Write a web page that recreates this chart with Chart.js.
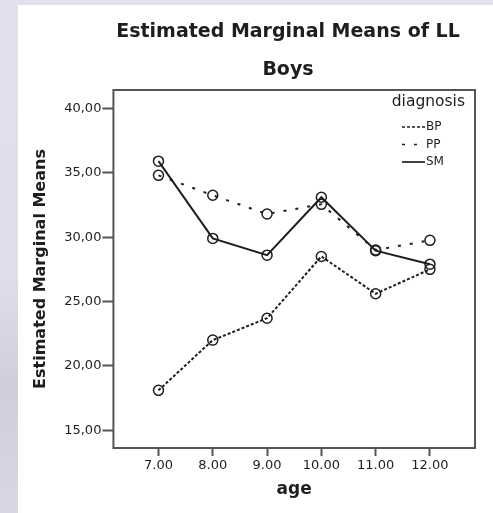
<!DOCTYPE html>
<html>
<head>
<meta charset="utf-8">
<script src="https://cdn.jsdelivr.net/npm/chart.js@4"></script>
<style>
  html, body { margin: 0; padding: 0; }
  body {
    width: 493px; height: 513px; overflow: hidden;
    background: linear-gradient(to bottom, #e2e2ee 0%, #dedeea 55%, #cfcfdc 75%, #d8d8e4 100%);
  }
  #panel {
    position: absolute; left: 18px; top: 5px;
    width: 475px; height: 508px; background: #fff;
  }
</style>
</head>
<body>
<div id="panel"><canvas id="myChart" width="475" height="508"></canvas></div>
<script>
// data
const ages = [7, 8, 9, 10, 11, 12];
const bpValues = [18.1, 22.0, 23.7, 28.5, 25.6, 27.5];
const ppValues = [34.8, 33.25, 31.8, 32.55, 29.0, 29.75];
const smValues = [35.9, 29.9, 28.6, 33.1, 28.95, 27.9];
const xTicks = [7, 8, 9, 10, 11, 12];
const yTicks = [15, 20, 25, 30, 35, 40];

const ink = '#1e1e1e';
const font = 'DejaVu Sans, sans-serif';

function toPoints(vals) {
  return vals.map((v, i) => ({ x: ages[i], y: v }));
}

function lineSet(label, vals, dash) {
  return {
    label: label,
    data: toPoints(vals),
    borderDash: dash,
    borderColor: ink,
    borderWidth: 2,
    pointRadius: 5,
    pointBorderWidth: 1.5,
    pointBorderColor: ink,
    pointBackgroundColor: 'rgba(0,0,0,0)',
    tension: 0
  };
}

// titles, box round the plot, legend in the corner
const boxAndLegend = {
  id: 'boxAndLegend',
  afterDraw(chart) {
    const { ctx, chartArea: a } = chart;
    ctx.save();
    ctx.fillStyle = ink;
    ctx.textAlign = 'center';
    ctx.textBaseline = 'middle';
    ctx.font = 'bold 19px ' + font;
    ctx.fillText('Estimated Marginal Means of LL', 270, 27);
    ctx.fillText('Boys', 270, 65);

    ctx.strokeStyle = '#555';
    ctx.lineWidth = 2;
    ctx.strokeRect(a.left, a.top, a.right - a.left, a.bottom - a.top);

    ctx.font = '15.5px ' + font;
    ctx.textAlign = 'right';
    ctx.fillText('diagnosis', a.right - 10, a.top + 12);

    ctx.font = '12px ' + font;
    ctx.textAlign = 'left';
    chart.data.datasets.forEach((ds, i) => {
      const y = a.top + 37 + i * 17.5;
      ctx.beginPath();
      ctx.setLineDash(ds.borderDash || []);
      ctx.lineWidth = 1.7;
      ctx.strokeStyle = ink;
      ctx.moveTo(a.right - 73, y);
      ctx.lineTo(a.right - 50, y);
      ctx.stroke();
      ctx.fillText(ds.label, a.right - 49, y);
    });
    ctx.restore();
  }
};

const ctx = document.getElementById('myChart');
new Chart(ctx, {
  type: 'line',
  data: {
    datasets: [
      lineSet('BP', bpValues, [3, 2]),
      lineSet('PP', ppValues, [3, 9]),
      lineSet('SM', smValues, [])
    ]
  },
  options: {
    responsive: false,
    animation: false,
    layout: { padding: { left: 13, right: 18, top: 85, bottom: 13 } },
    plugins: {
      legend: { display: false },
      tooltip: { enabled: false },
      colors: { enabled: false }
    },
    scales: {
      x: {
        type: 'linear',
        min: 6.17,
        max: 12.83,
        afterBuildTicks: s => { s.ticks = xTicks.map(v => ({ value: v })); },
        ticks: {
          color: ink,
          font: { family: font, size: 13 },
          padding: 2,
          maxRotation: 0,
          callback: v => v.toFixed(2)
        },
        grid: { drawOnChartArea: false, tickLength: 8, tickWidth: 2, color: '#555' },
        border: { display: false },
        title: {
          display: true,
          text: 'age',
          color: ink,
          font: { family: font, size: 17, weight: 'bold' },
          padding: { top: 4, bottom: 0 }
        }
      },
      y: {
        min: 13.62,
        max: 41.43,
        afterBuildTicks: s => { s.ticks = yTicks.map(v => ({ value: v })); },
        ticks: {
          color: ink,
          font: { family: font, size: 13 },
          padding: 1,
          callback: v => v.toFixed(2).replace('.', ',')
        },
        grid: { drawOnChartArea: false, tickLength: 11, tickWidth: 2, color: '#555' },
        border: { display: false },
        title: {
          display: true,
          text: 'Estimated Marginal Means',
          color: ink,
          font: { family: font, size: 16, weight: 'bold' },
          padding: { top: 0, bottom: 13 }
        }
      }
    }
  },
  plugins: [boxAndLegend]
});
</script>
</body>
</html>
